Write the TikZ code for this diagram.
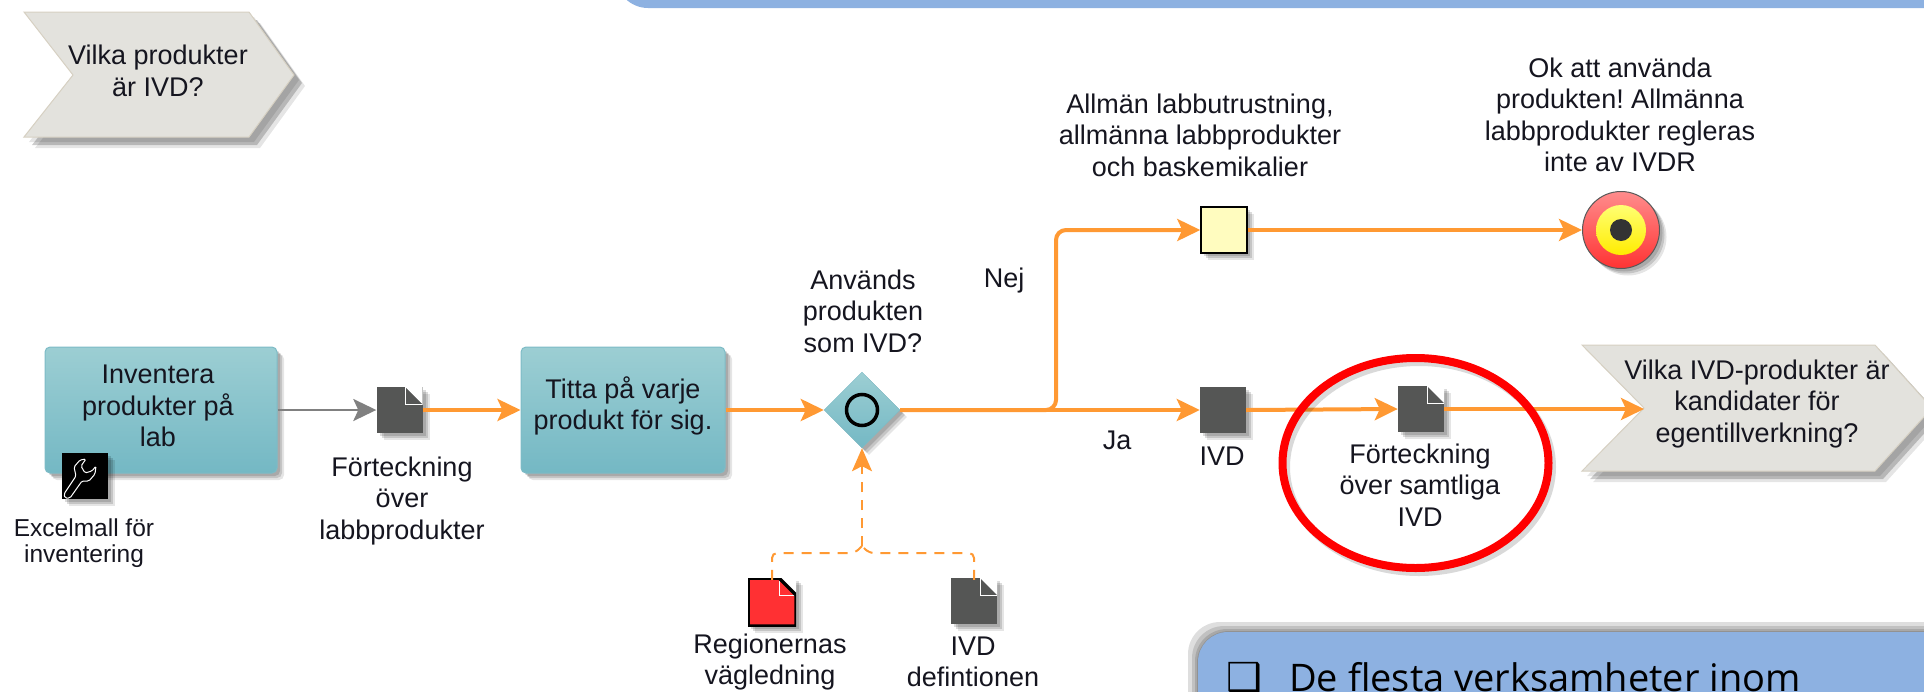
\documentclass[tikz,border=0pt]{standalone}
\usepackage{fontspec}
\setmainfont{Liberation Sans}
\newfontfamily\notefont{Open Sans}
\newfontfamily\symfont{DejaVu Sans}
\usetikzlibrary{arrows.meta,shapes.geometric,shadows}

\definecolor{flowcol}{HTML}{FF9933}
\definecolor{tealtop}{HTML}{9CCED3}
\definecolor{tealbot}{HTML}{74B8C4}
\definecolor{tealedge}{HTML}{7DBBC6}
\definecolor{docgray}{HTML}{555655}
\definecolor{docredcol}{HTML}{FF3033}
\definecolor{chevfill}{HTML}{E3E2DD}
\definecolor{chevedge}{HTML}{D6D0C2}
\definecolor{notecol}{HTML}{8DB1E1}
\definecolor{inkcol}{HTML}{15151F}

\tikzset{
  softshadow/.style={
    drop shadow={shadow xshift=7pt, shadow yshift=-7pt, fill=black, opacity=.1},
    drop shadow={shadow xshift=5pt, shadow yshift=-5pt, fill=black, opacity=.14},
    drop shadow={shadow xshift=3pt, shadow yshift=-3pt, fill=black, opacity=.14}},
  label/.style={align=center, text=inkcol, inner sep=0pt, font=\fontsize{27}{31.5}\selectfont},
  smalllabel/.style={label, font=\fontsize{24.5}{26}\selectfont},
  taskbox/.style={draw=tealedge, line width=1pt, rounded corners=5pt, top color=tealtop, bottom color=tealbot, minimum height=126pt, softshadow},
  docbase/.style={minimum width=46pt, minimum height=46pt, inner sep=0pt, softshadow},
  docnode/.style={docbase, fill=docgray,
    path picture={
      \fill[white] (path picture bounding box.north east) -- ++(-17,0) -- ++(17,17) -- cycle;
      \draw[white, line width=1pt] (path picture bounding box.north east) ++(-17,0) -- ++(0,17) -- ++(17,0);
    }},
  docred/.style={docbase, fill=docredcol, minimum width=48pt, minimum height=48pt,
    path picture={
      \fill[white] (path picture bounding box.north east) -- ++(-17,0) -- ++(17,17) -- cycle;
      \draw[white, line width=1pt] (path picture bounding box.north east) ++(-17,0) -- ++(0,17) -- ++(17,0);
      \draw[black, line width=3.5pt] (path picture bounding box.north west) -- ([xshift=-17pt]path picture bounding box.north east) -- ([yshift=-17pt]path picture bounding box.north east) -- (path picture bounding box.south east) -- (path picture bounding box.south west) -- cycle;
    }},
  squarenode/.style={minimum width=46pt, minimum height=46pt, inner sep=0pt, softshadow},
  chevron/.style={fill=chevfill, draw=chevedge, line width=1pt,
    drop shadow={shadow xshift=11pt, shadow yshift=-11pt, fill=black, opacity=.1},
    drop shadow={shadow xshift=8pt, shadow yshift=-8pt, fill=black, opacity=.2},
    drop shadow={shadow xshift=5pt, shadow yshift=-5pt, fill=black, opacity=.1}},
  flow/.style={draw=flowcol, line width=4pt, -{Stealth[length=23pt, width=22pt, inset=5pt]}},
  greyflow/.style={draw=gray, line width=2.5pt, -{Stealth[length=23pt, width=22pt, inset=5pt]}},
  dashflow/.style={draw=flowcol, line width=2pt, dash pattern=on 10pt off 8pt},
  noteboxbg/.style={fill=black, opacity=.13, rounded corners=32pt}
}

\begin{document}
\begin{tikzpicture}[x=1pt, y=-1pt]
        \frenchspacing

        \path[clip] (0,0) rectangle (1924,691);

        % Start and end chevrons
        \draw[chevron] (24,12) -- (249,12) -- (294,75) -- (249,137) -- (24,137) -- (73,75) -- cycle;
        \node[label] (startlabel) at (158,71) {Vilka produkter\\är IVD?};

        \draw[chevron] (1582,345) -- (1875,345) -- (1932,408) -- (1875,471) -- (1582,471) -- (1644,408) -- cycle;
        \coordinate (endnotch) at (1644,409);
        \node[label] (endlabel) at (1757,404) {Vilka IVD-produkter är\\kandidater för\\egentillverkning?};

        % Tasks
        \node[taskbox, minimum width=232pt] (inventory) at (161,410) {};
        \node[label, anchor=center] (inventorylabel) at (158,406) {Inventera\\produkter på\\lab};

        \node[taskbox, minimum width=204pt] (review) at (623,410) {};
        \node[label] (reviewlabel) at (623,406) {Titta på varje\\produkt för sig.};

        % Tool icon
        \node[squarenode, fill=black] (tool) at (84.5,476) {};
        \draw[white, line width=1pt, rounded corners=1.5pt] (64,494) -- (76,476) -- (74,467) -- (80,460) -- (86,459) -- (81,466) -- (85,473) -- (92,471) -- (96,466) -- (95,474) -- (89,481) -- (82,481) -- (70,498) -- (65,498) -- cycle;
        \node[smalllabel] (toollabel) at (84,543) {Excelmall för\\inventering};

        % Documents and squares on the main line
        \node[docnode] (doclist) at (399.5,410) {};
        \node[label] (doclistlabel) at (402,501) {Förteckning\\över\\labbprodukter};

        \node[squarenode, fill=docgray] (ivd) at (1223,410) {};
        \node[label] (ivdlabel) at (1222,456) {IVD};

        \node[docnode] (docall) at (1421,409) {};
        \node[label] (docalllabel) at (1420,485) {Förteckning\\över samtliga\\IVD};

        % Gateway
        \node[diamond, aspect=1, minimum width=76pt, minimum height=76pt, inner sep=0pt, draw=tealedge, top color=tealtop, bottom color=tealbot, softshadow] (gate) at (862,410) {};
        \node[circle, draw=black, line width=3.5pt, minimum size=31pt, inner sep=0pt] (gatering) at (gate) {};
        \node[label] (gatelabel) at (863,311) {Används\\produkten\\som IVD?};

        % Upper branch
        \node[squarenode, fill=yellow!25!white, draw=black, line width=1.5pt] (other) at (1224,230) {};
        \node[label] (otherlabel) at (1200,135) {Allmän labbutrustning,\\allmänna labbprodukter\\och baskemikalier};

        \node[circle, minimum size=77pt, inner sep=0pt, draw=black!65, line width=1pt, top color=red!45!white, bottom color=red!80!white, softshadow] (target) at (1621,230) {};
        \node[circle, minimum size=50pt, inner sep=0pt, top color=yellow!55!white, bottom color=yellow!85!orange] (targetring) at (target) {};
        \node[circle, minimum size=22pt, inner sep=0pt, fill=black!80] (targetcore) at (target) {};
        \node[label] (targetlabel) at (1620,115) {Ok att använda\\produkten! Allmänna\\labbprodukter regleras\\inte av IVDR};

        % Input documents
        \node[docred] (docregion) at (772,602) {};
        \node[label] (docregionlabel) at (770,662) {Regionernas\\vägledning};
        \node[docnode] (docdef) at (974,601) {};
        \node[label] (docdeflabel) at (973,662) {IVD\\defintionen};

        % Flow
        \coordinate (branch) at (1056,410);
        \draw[greyflow] (inventory.east |- doclist.west) -- (doclist.west);
        \draw[flow] (doclist.east) -- (review.west |- doclist.east);
        \draw[flow] (review.east |- gate.west) -- (gate.west);
        \draw[flow] (gate.east) -- (ivd.west);
        \draw[flow] (ivd.east) -- (docall.west);
        \draw[flow] (docall.east) -- (endnotch);
        \draw[flow, rounded corners=10pt] (gate.east) -- (branch) |- (other.west);
        \draw[flow] (other.east) -- (target.west);

        % Branch labels
        \node[label] (nolabel) at (1004,281) {Nej};
        \node[label] (yeslabel) at (1117,440) {Ja};

        % Dashed inputs
        \coordinate (caretleft) at (855,553);
        \coordinate (caretright) at (869,553);
        \coordinate (caret) at (862,546);
        \draw[dashflow, rounded corners=5pt] (docregion.north) ++(0,2) |- (caretleft) -- (caret);
        \draw[dashflow, rounded corners=5pt] (docdef.north) ++(0,2) |- (caretright) -- (caret);
        \draw[dashflow, -{Stealth[length=23pt, width=20pt, inset=5pt]}] (caret) -- (gate.south);

        % Red marking
        \node[ellipse, draw=black, opacity=.15, line width=8pt, minimum width=266pt, minimum height=210pt, inner sep=0pt] (markshadow) at (1419,467) {};
        \node[ellipse, draw=red, line width=8pt, minimum width=266pt, minimum height=210pt, inner sep=0pt] (mark) at (1415.5,463) {};

        % Note boxes
        \fill[notecol, rounded corners=32pt] (616,-60) rectangle (2000,8);
        \foreach \grow in {10,6,3,1} {
            \fill[noteboxbg] (1198-\grow,632-\grow) rectangle (2000,800);
        }
        \fill[notecol, rounded corners=30pt] (1198,632) rectangle (2000,800);
        \node[anchor=base west, inner sep=0pt, font=\symfont\fontsize{40}{44}\selectfont] (notebullet) at (1226,691) {❑};
        \node[anchor=base west, inner sep=0pt, font=\notefont\fontsize{38}{44}\selectfont] (notetext) at (1289,691) {De flesta verksamheter inom};

\end{tikzpicture}
\end{document}
